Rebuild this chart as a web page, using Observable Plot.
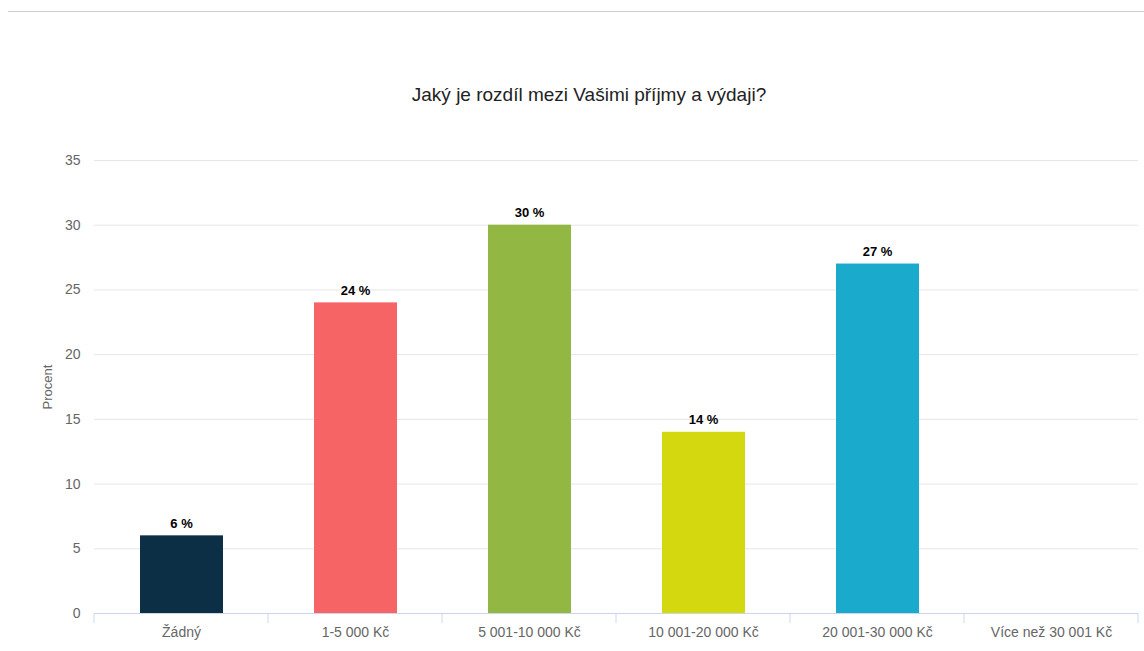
<!DOCTYPE html>
<html><head><meta charset="utf-8">
<script src="https://cdn.jsdelivr.net/npm/d3@7"></script>
<script src="https://cdn.jsdelivr.net/npm/@observablehq/plot@0.6"></script>
<style>
body{margin:0;background:#fff;font-family:"Liberation Sans",Arial,sans-serif;}
#wrap{position:relative;width:1144px;height:651px;overflow:hidden;}
#topline{position:absolute;left:8px;right:0;top:11px;height:1px;background:#ccc;}
#title{position:absolute;left:0;width:1178px;top:84px;text-align:center;font-size:19px;color:#222;}
#chart{position:absolute;left:0;top:120px;}
</style></head>
<body><div id="wrap"><div id="topline"></div><div id="title">Jaký je rozdíl mezi Vašimi příjmy a výdaji?</div><div id="chart"></div></div>
<script>
const categories = ["Žádný","1-5 000 Kč","5 001-10 000 Kč","10 001-20 000 Kč","20 001-30 000 Kč","Více než 30 001 Kč"];
const values = [6,24,30,14,27,0];
const colors = ["#0d2f45","#f76466","#92b742","#d4d80f","#1aabcc","#8e7cc3"];
const yTicks = [0,5,10,15,20,25,30,35];
const data = categories.map((c,i)=>({cat:c,value:values[i],color:colors[i]}));
const shown = data.filter(d=>d.value>0);

const plot = Plot.plot({
  width:1144, height:531,
  marginLeft:94, marginRight:6, marginTop:40, marginBottom:38,
  style:{fontFamily:"Liberation Sans, Arial, sans-serif", fontSize:"13px", color:"#666", background:"transparent"},
  x:{domain:categories, padding:0, label:null},
  y:{domain:[0,35], ticks:yTicks, label:"Procent"},
  marks:[
    Plot.gridY(yTicks.filter(t=>t>0),{stroke:"#e6e6e6", strokeOpacity:1}),
    Plot.axisY({ticks:yTicks, tickSize:0, tickPadding:14, label:"Procent", labelAnchor:"center", labelArrow:"none", labelOffset:52, fill:"#666", fontSize:14}),
    Plot.axisX({tickSize:0, tickPadding:14, label:null, fill:"#666", fontSize:14}),
    Plot.barY(shown,{x:"cat", y:"value", fill:"color", insetLeft:46, insetRight:45}),
    Plot.ruleY([0],{stroke:"#ccd6eb"}),
    Plot.text(shown,{x:"cat", y:"value", text:d=>d.value+" %", dy:-12, fontWeight:"bold", fontSize:13, fill:"#000", stroke:"#fff", strokeWidth:2, paintOrder:"stroke"})
  ]
});
document.getElementById("chart").appendChild(plot);
d3.select(plot).selectAll("g[aria-label='y-axis label'] text").attr("font-size",13);
// boundary ticks on the category axis, from the plot's own scales
const xs = plot.scale("x"), ys = plot.scale("y");
const xsc = d3.scaleBand().domain(xs.domain).range(xs.range).padding(0);
const y0 = d3.scaleLinear().domain(ys.domain).range(ys.range)(0);
const svg = d3.select(plot);
const edges = categories.map(c=>xsc(c)).concat([xsc(categories[categories.length-1])+xsc.bandwidth()]);
svg.append("g").selectAll("line").data(edges).join("line")
  .attr("x1",d=>d).attr("x2",d=>d).attr("y1",y0).attr("y2",y0+10)
  .attr("stroke","#ccd6eb");
</script></body></html>
